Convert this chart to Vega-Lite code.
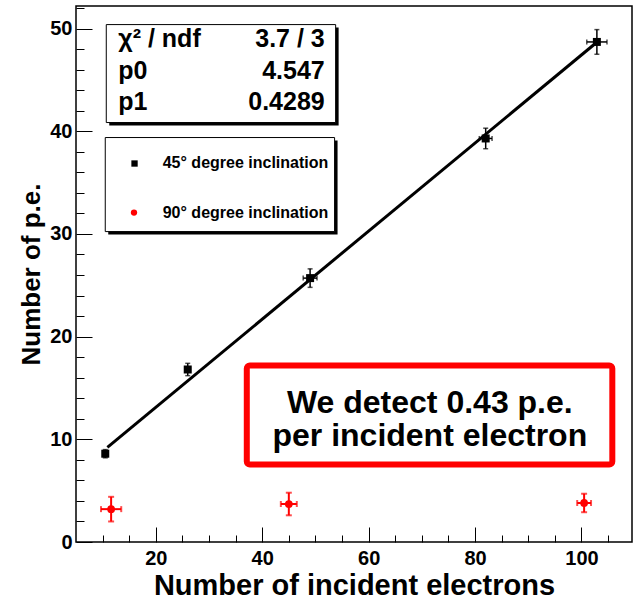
{
  "$schema": "https://vega.github.io/schema/vega-lite/v6.json",
  "width": 556,
  "height": 536,
  "autosize": "none",
  "padding": {"left": 76, "top": 6, "right": 5, "bottom": 63},
  "background": "white",
  "config": {"view": {"stroke": "black", "strokeWidth": 1.5}, "font": "Liberation Sans"},
  "datasets": {
    "black": [
      {"x": 10.5, "y": 8.6, "xlo": 10.2, "xhi": 10.8, "ylo": 8.2, "yhi": 9.0},
      {"x": 26.0, "y": 16.8, "xlo": 25.5, "xhi": 26.5, "ylo": 16.2, "yhi": 17.4},
      {"x": 49.0, "y": 25.7, "xlo": 47.7, "xhi": 50.3, "ylo": 24.8, "yhi": 26.6},
      {"x": 82.0, "y": 39.3, "xlo": 80.8, "xhi": 83.2, "ylo": 38.3, "yhi": 40.3},
      {"x": 102.9, "y": 48.7, "xlo": 101.0, "xhi": 104.8, "ylo": 47.5, "yhi": 49.9}
    ],
    "red": [
      {"x": 11.6, "y": 3.2, "xlo": 9.7, "xhi": 13.5, "ylo": 2.0, "yhi": 4.4},
      {"x": 45.0, "y": 3.7, "xlo": 43.5, "xhi": 46.5, "ylo": 2.6, "yhi": 4.8},
      {"x": 100.5, "y": 3.8, "xlo": 99.2, "xhi": 101.8, "ylo": 2.9, "yhi": 4.7}
    ],
    "fit": [
      {"x": 10.9, "y": 9.22},
      {"x": 103.0, "y": 48.72}
    ],
    "shadows": [
      {"x1": 11.25, "x2": 54.36, "y1": 50.1, "y2": 40.56},
      {"x1": 11.06, "x2": 54.16, "y1": 39.1, "y2": 29.94}
    ],
    "boxes": [
      {"x1": 10.69, "x2": 53.8, "y1": 50.39, "y2": 40.85},
      {"x1": 10.5, "x2": 53.6, "y1": 39.39, "y2": 30.23}
    ],
    "note": [
      {"x1": 37.1, "x2": 105.8, "y1": 17.19, "y2": 7.55}
    ],
    "statsLeft": [
      {"x": 12.95, "y": 48.2, "t": "χ² / ndf"},
      {"x": 12.95, "y": 45.05, "t": "p0"},
      {"x": 12.95, "y": 42.05, "t": "p1"}
    ],
    "statsRight": [
      {"x": 51.75, "y": 48.2, "t": "3.7 / 3"},
      {"x": 51.75, "y": 45.05, "t": "4.547"},
      {"x": 51.75, "y": 42.05, "t": "0.4289"}
    ],
    "legText": [
      {"x": 21.3, "y": 36.4, "t": "45° degree inclination"},
      {"x": 21.3, "y": 31.55, "t": "90° degree inclination"}
    ],
    "legBlack": [{"x": 16.0, "y": 36.86}],
    "legRed": [{"x": 15.9, "y": 32.08}],
    "noteText": [
      {"x": 71.5, "y": 12.6, "t": "We detect 0.43 p.e."},
      {"x": 71.5, "y": 9.35, "t": "per incident electron"}
    ]
  },
  "resolve": {"axis": {"x": "independent", "y": "independent"}},
  "layer": [
    {
      "data": {"name": "fit"},
      "mark": {"type": "line", "color": "black", "strokeWidth": 3},
      "encoding": {
        "x": {"field": "x", "type": "quantitative",
          "scale": {"domain": [5, 109.5], "nice": false, "zero": false},
          "axis": {"orient": "bottom", "values": [20, 40, 60, 80, 100], "tickSize": -15, "labelPadding": 21,
            "labelFont": "Liberation Sans", "labelFontWeight": "bold", "labelFontSize": 20, "labelColor": "black",
            "tickColor": "black", "tickWidth": 1, "domain": false, "grid": false,
            "title": "Number of incident electrons", "titleFont": "Liberation Sans", "titleFontSize": 29,
            "titleFontWeight": "bold", "titleColor": "black", "titlePadding": 3}},
        "y": {"field": "y", "type": "quantitative",
          "scale": {"domain": [0, 52.2], "nice": false, "zero": false},
          "axis": {"orient": "left", "values": [0, 10, 20, 30, 40, 50], "tickSize": -16, "labelPadding": 20,
            "labelFont": "Liberation Sans", "labelFontWeight": "bold", "labelFontSize": 20, "labelColor": "black",
            "tickColor": "black", "tickWidth": 1, "domain": false, "grid": false,
            "title": "Number of p.e.", "titleFont": "Liberation Sans", "titleFontSize": 26,
            "titleFontWeight": "bold", "titleColor": "black", "titlePadding": 5}}
      }
    },
    {
      "data": {"name": "black"},
      "mark": {"type": "errorbar", "color": "black", "thickness": 1.5, "ticks": {"size": 5, "color": "black"}},
      "encoding": {
        "x": {"field": "x", "type": "quantitative",
          "axis": {"orient": "bottom", "values": [10, 15, 25, 30, 35, 45, 50, 55, 65, 70, 75, 85, 90, 95, 105],
            "tickSize": -7, "labels": false, "domain": false, "grid": false, "title": null, "tickColor": "black"}},
        "y": {"field": "ylo", "type": "quantitative",
          "axis": {"orient": "left", "values": [2, 4, 6, 8, 12, 14, 16, 18, 22, 24, 26, 28, 32, 34, 36, 38, 42, 44, 46, 48, 52],
            "tickSize": -8, "labels": false, "domain": false, "grid": false, "title": null, "tickColor": "black"}},
        "y2": {"field": "yhi"}
      }
    },
    {
      "data": {"name": "black"},
      "mark": {"type": "errorbar", "color": "black", "thickness": 1.5, "ticks": {"size": 5, "color": "black"}},
      "encoding": {
        "x": {"field": "xlo", "type": "quantitative", "axis": null},
        "x2": {"field": "xhi"},
        "y": {"field": "y", "type": "quantitative", "axis": null}
      }
    },
    {
      "data": {"name": "black"},
      "mark": {"type": "point", "shape": "square", "filled": true, "color": "black", "size": 64, "opacity": 1},
      "encoding": {
        "x": {"field": "x", "type": "quantitative", "axis": null},
        "y": {"field": "y", "type": "quantitative", "axis": null}
      }
    },
    {
      "data": {"name": "red"},
      "mark": {"type": "errorbar", "color": "#ff0000", "thickness": 2, "ticks": {"size": 6, "color": "#ff0000"}},
      "encoding": {
        "x": {"field": "x", "type": "quantitative", "axis": null},
        "y": {"field": "ylo", "type": "quantitative", "axis": null},
        "y2": {"field": "yhi"}
      }
    },
    {
      "data": {"name": "red"},
      "mark": {"type": "errorbar", "color": "#ff0000", "thickness": 2, "ticks": {"size": 6, "color": "#ff0000"}},
      "encoding": {
        "x": {"field": "xlo", "type": "quantitative", "axis": null},
        "x2": {"field": "xhi"},
        "y": {"field": "y", "type": "quantitative", "axis": null}
      }
    },
    {
      "data": {"name": "red"},
      "mark": {"type": "point", "shape": "circle", "filled": true, "color": "#ff0000", "size": 60, "opacity": 1},
      "encoding": {
        "x": {"field": "x", "type": "quantitative", "axis": null},
        "y": {"field": "y", "type": "quantitative", "axis": null}
      }
    },
    {
      "data": {"name": "shadows"},
      "mark": {"type": "rect", "color": "black"},
      "encoding": {
        "x": {"field": "x1", "type": "quantitative", "axis": null},
        "x2": {"field": "x2"},
        "y": {"field": "y1", "type": "quantitative", "axis": null},
        "y2": {"field": "y2"}
      }
    },
    {
      "data": {"name": "boxes"},
      "mark": {"type": "rect", "fill": "white", "stroke": "black", "strokeWidth": 1},
      "encoding": {
        "x": {"field": "x1", "type": "quantitative", "axis": null},
        "x2": {"field": "x2"},
        "y": {"field": "y1", "type": "quantitative", "axis": null},
        "y2": {"field": "y2"}
      }
    },
    {
      "data": {"name": "note"},
      "mark": {"type": "rect", "fill": "white", "stroke": "#ff0000", "strokeWidth": 6, "cornerRadius": 3},
      "encoding": {
        "x": {"field": "x1", "type": "quantitative", "axis": null},
        "x2": {"field": "x2"},
        "y": {"field": "y1", "type": "quantitative", "axis": null},
        "y2": {"field": "y2"}
      }
    },
    {
      "data": {"name": "statsLeft"},
      "mark": {"type": "text", "align": "left", "baseline": "alphabetic", "font": "Liberation Sans", "fontWeight": "bold", "fontSize": 25, "color": "black"},
      "encoding": {
        "x": {"field": "x", "type": "quantitative", "axis": null},
        "y": {"field": "y", "type": "quantitative", "axis": null},
        "text": {"field": "t"}
      }
    },
    {
      "data": {"name": "statsRight"},
      "mark": {"type": "text", "align": "right", "baseline": "alphabetic", "font": "Liberation Sans", "fontWeight": "bold", "fontSize": 25, "color": "black"},
      "encoding": {
        "x": {"field": "x", "type": "quantitative", "axis": null},
        "y": {"field": "y", "type": "quantitative", "axis": null},
        "text": {"field": "t"}
      }
    },
    {
      "data": {"name": "legText"},
      "mark": {"type": "text", "align": "left", "baseline": "alphabetic", "font": "Liberation Sans", "fontWeight": "bold", "fontSize": 16, "color": "black"},
      "encoding": {
        "x": {"field": "x", "type": "quantitative", "axis": null},
        "y": {"field": "y", "type": "quantitative", "axis": null},
        "text": {"field": "t"}
      }
    },
    {
      "data": {"name": "legBlack"},
      "mark": {"type": "point", "shape": "square", "filled": true, "color": "black", "size": 40, "opacity": 1},
      "encoding": {
        "x": {"field": "x", "type": "quantitative", "axis": null},
        "y": {"field": "y", "type": "quantitative", "axis": null}
      }
    },
    {
      "data": {"name": "legRed"},
      "mark": {"type": "point", "shape": "circle", "filled": true, "color": "#ff0000", "size": 40, "opacity": 1},
      "encoding": {
        "x": {"field": "x", "type": "quantitative", "axis": null},
        "y": {"field": "y", "type": "quantitative", "axis": null}
      }
    },
    {
      "data": {"name": "noteText"},
      "mark": {"type": "text", "align": "center", "baseline": "alphabetic", "font": "Liberation Sans", "fontWeight": "bold", "fontSize": 32, "color": "black"},
      "encoding": {
        "x": {"field": "x", "type": "quantitative", "axis": null},
        "y": {"field": "y", "type": "quantitative", "axis": null},
        "text": {"field": "t"}
      }
    }
  ]
}
